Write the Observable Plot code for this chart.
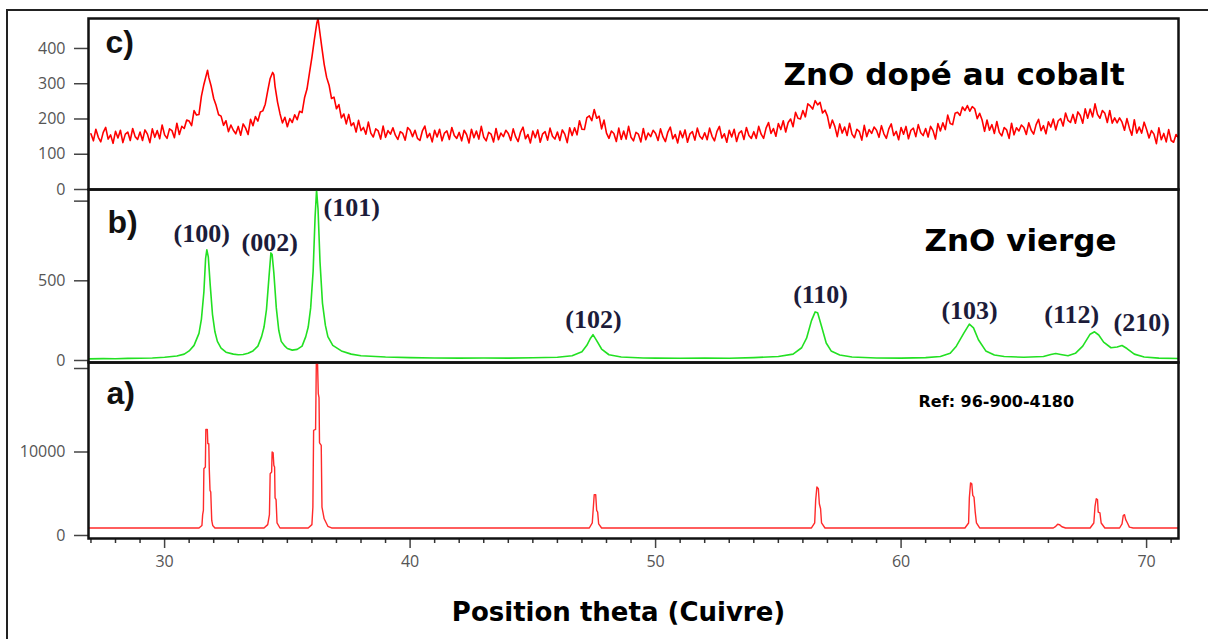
<!DOCTYPE html>
<html><head><meta charset="utf-8">
<script src="https://cdn.jsdelivr.net/npm/d3@7"></script>
<script src="https://cdn.jsdelivr.net/npm/@observablehq/plot@0.6"></script>
<style>
html,body{margin:0;padding:0;background:#fff;overflow:hidden}
#wrap{position:relative;width:1208px;height:639px;overflow:hidden}
#wrap svg{position:absolute;left:0;overflow:visible;background:transparent}
#border{position:absolute;left:6px;top:9px;width:1400px;height:800px;border-left:2px solid #222;border-top:2px solid #222}
</style></head><body><div id="wrap"><div id="border"></div></div>
<script>
// ---- data ----
const xDomain = [26.9, 71.3];
const xMajorTicks = [30, 40, 50, 60, 70];
const xMinorTicks = [27,28,29,31,32,33,34,35,36,37,38,39,41,42,43,44,45,46,47,48,49,51,52,53,54,55,56,57,58,59,61,62,63,64,65,66,67,68,69,71];
const xTitle = "Position theta (Cuivre)";

// c) Co-doped ZnO (2theta, counts)
const codoped = [
[27.0,158],[27.1,138],[27.2,171],[27.3,148],[27.4,135],[27.5,162],[27.6,176],[27.7,143],[27.8,155],[27.9,131],
[28.0,165],[28.1,146],[28.2,168],[28.3,133],[28.4,157],[28.5,163],[28.6,139],[28.7,173],[28.8,150],[28.9,142],
[29.0,163],[29.1,139],[29.2,169],[29.3,157],[29.4,133],[29.5,172],[29.6,148],[29.7,167],[29.8,144],[29.9,183],
[30.0,155],[30.1,145],[30.2,172],[30.3,167],[30.4,147],[30.5,188],[30.6,156],[30.7,179],[30.8,173],[30.9,197],
[31.0,194],[31.1,181],[31.2,224],[31.3,211],[31.4,213],[31.5,265],[31.6,298],[31.7,325],[31.75,338],[31.8,318],
[31.9,292],[32.0,258],[32.1,238],[32.2,212],[32.3,208],[32.4,182],[32.5,195],[32.6,164],[32.7,183],[32.8,168],
[32.9,158],[33.0,179],[33.1,154],[33.2,186],[33.3,174],[33.4,156],[33.5,199],[33.6,181],[33.7,207],[33.8,194],
[33.9,220],[34.0,223],[34.1,242],[34.2,280],[34.3,315],[34.4,332],[34.45,326],[34.5,292],[34.6,248],[34.7,215],
[34.8,189],[34.9,205],[35.0,178],[35.1,201],[35.2,190],[35.3,212],[35.4,198],[35.5,222],[35.6,218],[35.7,260],
[35.8,285],[35.9,330],[36.0,375],[36.1,425],[36.2,472],[36.25,485],[36.3,458],[36.4,405],[36.5,355],[36.6,318],
[36.7,296],[36.8,258],[36.9,262],[37.0,229],[37.1,241],[37.2,203],[37.3,214],[37.4,186],[37.5,213],[37.6,181],
[37.7,189],[37.8,163],[37.9,196],[38.0,167],[38.1,176],[38.2,157],[38.3,191],[38.4,160],[38.5,149],[38.6,172],
[38.7,166],[38.8,143],[38.9,180],[39.0,148],[39.1,167],[39.2,157],[39.3,175],[39.4,154],[39.5,142],[39.6,164],
[39.7,159],[39.8,140],[39.9,176],[40.0,168],[40.1,150],[40.2,168],[40.3,145],[40.4,139],[40.5,166],[40.6,180],
[40.7,147],[40.8,159],[40.9,135],[41.0,168],[41.1,149],[41.2,171],[41.3,138],[41.4,160],[41.5,166],[41.6,142],
[41.7,176],[41.8,153],[41.9,145],[42.0,162],[42.1,138],[42.2,168],[42.3,156],[42.4,132],[42.5,171],[42.6,147],
[42.7,166],[42.8,143],[42.9,179],[43.0,148],[43.1,138],[43.2,162],[43.3,157],[43.4,135],[43.5,173],[43.6,141],
[43.7,160],[43.8,150],[43.9,168],[44.0,159],[44.1,139],[44.2,172],[44.3,149],[44.4,136],[44.5,163],[44.6,177],
[44.7,144],[44.8,156],[44.9,132],[45.0,166],[45.1,147],[45.2,169],[45.3,134],[45.4,158],[45.5,164],[45.6,140],
[45.7,174],[45.8,151],[45.9,143],[46.0,163],[46.1,139],[46.2,169],[46.3,157],[46.4,133],[46.5,175],[46.6,153],
[46.7,175],[46.8,155],[46.9,195],[47.0,171],[47.1,170],[47.2,204],[47.3,209],[47.4,195],[47.5,227],[47.6,202],
[47.7,208],[47.8,172],[47.9,197],[48.0,160],[48.1,145],[48.2,166],[48.3,159],[48.4,136],[48.5,174],[48.6,142],
[48.7,166],[48.8,143],[48.9,179],[49.0,148],[49.1,138],[49.2,162],[49.3,157],[49.4,135],[49.5,173],[49.6,141],
[49.7,160],[49.8,150],[49.9,168],[50.0,159],[50.1,139],[50.2,172],[50.3,149],[50.4,136],[50.5,163],[50.6,177],
[50.7,144],[50.8,156],[50.9,132],[51.0,166],[51.1,147],[51.2,169],[51.3,134],[51.4,158],[51.5,164],[51.6,140],
[51.7,174],[51.8,151],[51.9,143],[52.0,161],[52.1,141],[52.2,174],[52.3,151],[52.4,138],[52.5,165],[52.6,179],
[52.7,146],[52.8,158],[52.9,134],[53.0,168],[53.1,149],[53.2,171],[53.3,136],[53.4,160],[53.5,166],[53.6,142],
[53.7,176],[53.8,153],[53.9,145],[54.0,164],[54.1,145],[54.2,179],[54.3,157],[54.4,145],[54.5,174],[54.6,190],
[54.7,159],[54.8,173],[54.9,151],[55.0,187],[55.1,170],[55.2,195],[55.3,163],[55.4,190],[55.5,200],[55.6,178],
[55.7,219],[55.8,202],[55.9,200],[56.0,224],[56.1,206],[56.2,243],[56.3,237],[56.4,228],[56.5,252],[56.6,240],
[56.7,247],[56.8,217],[56.9,225],[57.0,208],[57.1,174],[57.2,197],[57.3,179],[57.4,150],[57.5,186],[57.6,160],
[57.7,177],[57.8,153],[57.9,188],[58.0,157],[58.1,147],[58.2,171],[58.3,164],[58.4,140],[58.5,182],[58.6,150],
[58.7,170],[58.8,159],[58.9,177],[59.0,168],[59.1,148],[59.2,181],[59.3,158],[59.4,145],[59.5,172],[59.6,186],
[59.7,153],[59.8,165],[59.9,141],[60.0,176],[60.1,157],[60.2,179],[60.3,144],[60.4,168],[60.5,174],[60.6,150],
[60.7,184],[60.8,161],[60.9,153],[61.0,173],[61.1,149],[61.2,179],[61.3,167],[61.4,143],[61.5,187],[61.6,166],
[61.7,189],[61.8,170],[61.9,211],[62.0,187],[62.1,184],[62.2,216],[62.3,219],[62.4,210],[62.5,234],[62.6,224],
[62.7,238],[62.8,222],[62.9,235],[63.0,229],[63.1,201],[63.2,216],[63.3,197],[63.4,165],[63.5,197],[63.6,168],
[63.7,184],[63.8,159],[63.9,193],[64.0,162],[64.1,152],[64.2,176],[64.3,169],[64.4,145],[64.5,188],[64.6,155],
[64.7,175],[64.8,166],[64.9,183],[65.0,176],[65.1,156],[65.2,189],[65.3,168],[65.4,157],[65.5,184],[65.6,199],
[65.7,167],[65.8,181],[65.9,158],[66.0,192],[66.1,177],[66.2,200],[66.3,169],[66.4,195],[66.5,201],[66.6,180],
[66.7,217],[66.8,196],[66.9,190],[67.0,213],[67.1,188],[67.2,220],[67.3,210],[67.4,188],[67.5,229],[67.6,202],
[67.7,228],[67.8,206],[67.9,243],[68.0,213],[68.1,202],[68.2,224],[68.3,216],[68.4,190],[68.5,224],[68.6,188],
[68.7,203],[68.8,189],[68.9,203],[69.0,191],[69.1,168],[69.2,201],[69.3,174],[69.4,154],[69.5,198],[69.6,160],
[69.7,177],[69.8,160],[69.9,191],[70.0,170],[70.1,146],[70.2,167],[70.3,157],[70.4,130],[70.5,175],[70.6,141],
[70.7,159],[70.8,135],[70.9,170],[71.0,139],[71.1,134],[71.2,156],[71.3,147]
];

// b) pure ZnO
const pure = [
[26.9,10],[27.5,12],[28,11],[28.5,13],[29,14],[29.5,16],[30,20],[30.5,28],[30.8,40],[31.0,60],[31.2,95],[31.4,170],
[31.5,260],[31.6,430],[31.67,640],[31.72,695],[31.78,650],[31.86,470],[31.95,290],[32.05,180],[32.15,120],[32.3,78],
[32.5,52],[32.8,40],[33.0,36],[33.2,38],[33.4,45],[33.6,60],[33.8,90],[33.95,150],[34.05,210],[34.15,320],[34.25,520],
[34.33,675],[34.38,665],[34.45,550],[34.55,330],[34.65,190],[34.75,120],[34.9,90],[35.0,75],[35.2,65],[35.4,70],
[35.6,90],[35.75,150],[35.85,210],[35.95,330],[36.05,560],[36.13,900],[36.19,1070],[36.25,950],[36.33,620],
[36.43,360],[36.55,220],[36.65,150],[36.85,95],[37.2,60],[37.6,40],[38.0,30],[39,22],[40,18],[41,16],[42,15],
[43,16],[44,15],[45,17],[46,20],[46.6,30],[47.0,55],[47.2,95],[47.35,140],[47.45,162],[47.6,125],[47.8,72],
[48.1,36],[48.6,22],[49.5,16],[50,15],[51,14],[52,15],[53,14],[54,18],[55,25],[55.6,40],[55.95,80],[56.15,140],
[56.35,250],[56.5,305],[56.6,300],[56.75,220],[56.95,110],[57.15,60],[57.5,35],[58,22],[59,16],[60,15],[61,18],
[61.6,25],[62.0,45],[62.25,90],[62.55,170],[62.78,228],[62.95,205],[63.15,130],[63.45,60],[63.8,35],[64.2,25],
[65,20],[65.8,25],[66.1,38],[66.3,44],[66.5,38],[66.8,30],[67.1,45],[67.4,90],[67.7,165],[67.88,180],[68.05,160],
[68.25,115],[68.55,80],[68.8,85],[69.0,94],[69.2,75],[69.5,40],[69.9,22],[70.5,15],[71.3,12]
];

// a) reference pattern 96-900-4180
const reference = [
[26.9,900],[31.40,900],[31.52,1200],[31.55,2500],[31.58,3000],[31.60,8000],[31.66,8200],[31.68,12700],[31.74,12700],
[31.76,11000],[31.80,11000],[31.82,8000],[31.85,5400],[31.88,5200],[31.92,1800],[31.96,1200],[32.05,900],
[34.05,900],[34.20,1300],[34.27,2500],[34.30,7400],[34.36,7600],[34.38,10000],[34.42,9900],[34.45,8400],[34.48,8200],
[34.50,4500],[34.54,4300],[34.58,1500],[34.70,900],
[35.85,900],[36.00,1300],[36.04,3400],[36.07,12600],[36.15,12700],[36.18,20600],[36.23,20600],[36.26,17000],[36.29,16500],
[36.31,11100],[36.38,10800],[36.41,3400],[36.50,2000],[36.65,1100],[36.80,900],
[47.30,900],[47.42,1500],[47.46,3200],[47.50,4900],[47.56,4900],[47.60,3000],[47.64,2800],[47.68,1400],[47.80,900],
[56.35,900],[56.48,1500],[56.52,4200],[56.57,5800],[56.63,5600],[56.67,3800],[56.72,3200],[56.76,1500],[56.90,900],
[62.60,900],[62.75,1500],[62.78,4500],[62.83,6300],[62.88,6200],[62.92,4800],[62.97,4600],[63.02,2800],[63.07,1500],[63.20,900],
[66.20,900],[66.30,1100],[66.38,1350],[66.45,1300],[66.55,1050],[66.70,900],
[67.70,900],[67.85,1500],[67.90,3500],[67.95,4400],[68.00,4300],[68.03,2800],[68.10,2700],[68.15,1500],[68.30,900],
[68.90,900],[69.00,1400],[69.05,2400],[69.10,2500],[69.15,1900],[69.22,1500],[69.30,1000],[69.45,900],[71.3,900]
];

const cTicks = [0, 100, 200, 300, 400];
const bTicks = [0, 500, 1000];
const bTickLabels = [0, 500];
const aTicks = [0, 10000, 20000];
const aTickLabels = [0, 10000];

const panelLabels = ["c)", "b)", "a)"];
const sampleLabels = ["ZnO dopé au cobalt", "ZnO vierge", "Ref: 96-900-4180"];

const millerLabels = ["(100)", "(002)", "(101)", "(102)", "(110)", "(103)", "(112)", "(210)"];
const millerTheta  = [31.51, 34.28, 37.62, 47.47, 56.72, 62.79, 66.95, 69.80];
const millerCounts = [797, 741, 960, 257, 414, 314, 289, 239];

// ---- drawing ----
const W = 1208, ML = 88, MR = W - 1178;
const tickFont = {fontFamily: "Open Sans", fontSize: 16, fill: "#555", stroke: "#444", strokeWidth: 1.5};
const frameStyle = {stroke: "#111", strokeWidth: 2.5};
const labelStyle = {frameAnchor: "top-left", textAnchor: "start", lineAnchor: "bottom", fontFamily: "Liberation Sans", fontWeight: "bold", fontSize: 32, fill: "#111", text: d => d};
const sampleStyle = {frameAnchor: "top-left", textAnchor: "start", lineAnchor: "bottom", fontFamily: "DejaVu Sans", fontWeight: "bold", fill: "#000", text: d => d};

const wrap = document.getElementById("wrap");
function place(svg, top) { svg.style.top = top + "px"; wrap.appendChild(svg); }

// c)
place(Plot.plot({
  width: W, height: 189, marginLeft: ML, marginRight: MR, marginTop: 18, marginBottom: 0,
  style: {overflow: "visible", background: "transparent"},
  x: {domain: xDomain, axis: null},
  y: {domain: [0, 485]},
  marks: [
    Plot.line(codoped, {x: d => d[0], y: d => d[1], stroke: "#ff0000", strokeWidth: 1.6, clip: true}),
    Plot.axisY(cTicks, {...tickFont, tickSize: 14, tickPadding: 9, label: null}),
    Plot.frame(frameStyle),
    Plot.text([panelLabels[0]], {...labelStyle, dx: 17, dy: 34}),
    Plot.text([sampleLabels[0]], {...sampleStyle, fontSize: 31, dx: 695, dy: 66})
  ]
}), 0);

// b)
place(Plot.plot({
  width: W, height: 173, marginLeft: ML, marginRight: MR, marginTop: 0, marginBottom: 0,
  style: {overflow: "visible", background: "transparent"},
  x: {domain: xDomain, axis: null},
  y: {domain: [-12.6, 1073]},
  marks: [
    Plot.line(pure, {x: d => d[0], y: d => d[1], stroke: "#22e022", strokeWidth: 1.6, clip: true}),
    Plot.axisY(bTicks, {...tickFont, tickSize: 14, tickPadding: 9, label: null, tickFormat: d => bTickLabels.includes(d) ? String(d) : ""}),
    Plot.frame(frameStyle),
    Plot.text([panelLabels[1]], {...labelStyle, dx: 19, dy: 43}),
    Plot.text([sampleLabels[1]], {...sampleStyle, fontSize: 31, dx: 836, dy: 61}),
    Plot.text(millerLabels, {x: (d, i) => millerTheta[i], y: (d, i) => millerCounts[i], text: d => d,
      fontFamily: "Liberation Serif", fontWeight: "bold", fontSize: 26, fill: "#1c1c3a"})
  ]
}), 189);

// a)
place(Plot.plot({
  width: W, height: 277, marginLeft: ML, marginRight: MR, marginTop: 0, marginBottom: 101,
  style: {overflow: "visible", background: "transparent"},
  x: {domain: xDomain},
  y: {domain: [-360, 20719]},
  marks: [
    Plot.line(reference, {x: d => d[0], y: d => d[1], stroke: "#ff2a2a", strokeWidth: 1.4, clip: true}),
    Plot.axisY(aTicks, {...tickFont, tickSize: 14, tickPadding: 9, label: null, tickFormat: d => aTickLabels.includes(d) ? String(d) : ""}),
    Plot.axisX(xMinorTicks, {stroke: "#333", strokeWidth: 1.5, tickSize: 5, tickFormat: () => "", label: null}),
    Plot.axisX(xMajorTicks, {...tickFont, tickSize: 10, tickPadding: 7, label: null}),
    Plot.frame(frameStyle),
    Plot.text([panelLabels[2]], {...labelStyle, dx: 18, dy: 41}),
    Plot.text([sampleLabels[2]], {...sampleStyle, fontSize: 16, dx: 830, dy: 44}),
    Plot.text([xTitle], {frameAnchor: "bottom", lineAnchor: "bottom", dx: -15, dy: 82, text: d => d,
      fontFamily: "DejaVu Sans", fontWeight: "bold", fontSize: 26, fill: "#000"})
  ]
}), 362);
</script></body></html>
